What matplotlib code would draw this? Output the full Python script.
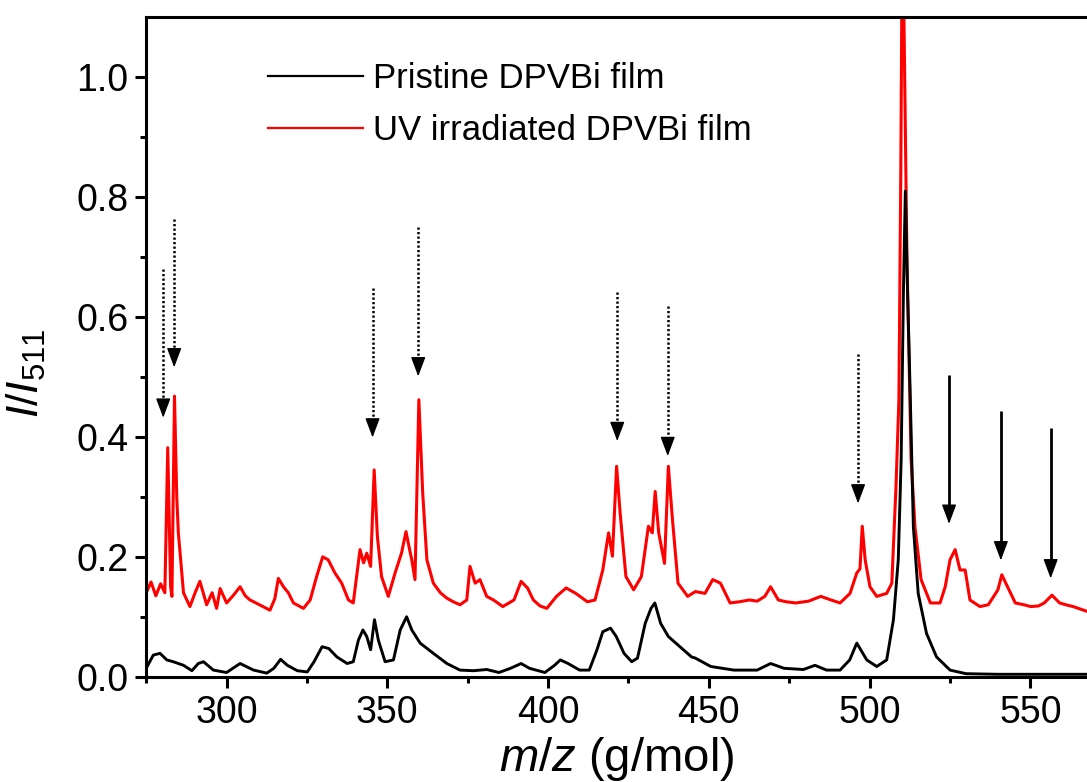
import matplotlib
matplotlib.use("Agg")
import matplotlib.pyplot as plt

plt.rcParams['font.family'] = ['Liberation Sans', 'DejaVu Sans']
plt.rcParams['mathtext.fontset'] = 'custom'
plt.rcParams['mathtext.rm'] = 'Liberation Sans'
plt.rcParams['mathtext.it'] = 'Liberation Sans:italic'

# ---------------- data ----------------
red_mz = [275.0, 276.5, 278.0, 279.5, 280.8, 281.7, 282.6, 283.0, 283.8, 284.5, 285.0, 286.6,
          288.6, 290.2, 291.7, 293.8, 295.5, 296.9, 298.0, 300.0, 302.0, 304.2, 305.8, 307.3,
          309.5, 311.4, 313.5, 315.0, 316.1, 317.7, 319.2, 320.8, 323.9, 326.0, 328.0, 329.9,
          331.6, 333.7, 335.8, 337.9, 339.4, 340.5, 341.5, 342.6, 343.6, 344.8, 345.9, 346.9,
          348.2, 350.3, 352.4, 354.4, 355.8, 357.0, 357.6, 358.6, 359.8, 361.0, 362.3, 364.3,
          366.5, 368.5, 370.5, 372.6, 374.7, 375.7, 377.3, 378.8, 380.9, 383.0, 385.9, 389.4,
          391.6, 393.6, 395.4, 397.5, 399.6, 402.6, 405.6, 408.6, 412.2, 414.6, 417.0, 418.8,
          420.0, 421.3, 422.4, 424.2, 426.6, 429.0, 431.2, 432.4, 433.3, 434.4, 436.2, 437.4,
          438.6, 440.4, 443.4, 445.8, 448.8, 451.2, 453.6, 456.6, 459.5, 462.6, 465.0, 467.4,
          469.2, 471.6, 474.0, 477.0, 481.0, 484.8, 488.0, 490.8, 493.9, 496.0, 497.0, 497.7,
          498.6, 500.1, 502.2, 505.3, 506.9, 508.2, 509.1, 509.7, 510.2, 510.9, 511.6, 512.9,
          514.1, 516.0, 518.9, 521.9, 523.5, 525.0, 526.6, 528.1, 529.7, 531.2, 534.3,
          536.9, 539.9, 541.1, 542.9, 545.3, 548.0, 550.1, 552.5, 554.3, 556.7, 559.1, 561.0,
          563.3, 567.6]
red_int = [0.140, 0.158, 0.135, 0.155, 0.140, 0.382, 0.150, 0.134, 0.468, 0.300, 0.240, 0.140,
           0.117, 0.140, 0.159, 0.120, 0.140, 0.114, 0.147, 0.123, 0.135, 0.150, 0.135, 0.128,
           0.122, 0.117, 0.111, 0.130, 0.164, 0.150, 0.140, 0.123, 0.114, 0.128, 0.167, 0.200,
           0.195, 0.173, 0.156, 0.128, 0.123, 0.170, 0.212, 0.190, 0.206, 0.184, 0.345, 0.234,
           0.167, 0.134, 0.173, 0.206, 0.242, 0.210, 0.195, 0.162, 0.462, 0.306, 0.195, 0.156,
           0.140, 0.131, 0.125, 0.120, 0.128, 0.184, 0.156, 0.162, 0.134, 0.128, 0.117, 0.128,
           0.159, 0.148, 0.128, 0.118, 0.114, 0.134, 0.148, 0.139, 0.125, 0.128, 0.178, 0.240,
           0.201, 0.351, 0.273, 0.167, 0.145, 0.167, 0.251, 0.240, 0.309, 0.240, 0.189, 0.351,
           0.267, 0.156, 0.134, 0.142, 0.139, 0.162, 0.156, 0.123, 0.125, 0.128, 0.126, 0.134,
           0.150, 0.128, 0.125, 0.123, 0.126, 0.134, 0.128, 0.123, 0.139, 0.173, 0.180, 0.251,
           0.195, 0.150, 0.134, 0.139, 0.156, 0.318, 0.462, 0.850, 1.300, 1.000, 0.700, 0.362,
           0.250, 0.162, 0.123, 0.123, 0.150, 0.195, 0.212, 0.178, 0.178, 0.128, 0.117,
           0.120, 0.145, 0.170, 0.150, 0.123, 0.120, 0.117, 0.118, 0.123, 0.136, 0.123, 0.120,
           0.117, 0.109]

black_mz = [275.0, 277.2, 279.3, 281.4, 283.4, 286.6, 289.2, 291.2, 292.8, 295.9, 300.0, 304.2,
            308.4, 312.5, 314.7, 316.8, 318.9, 322.0, 325.1, 327.2, 329.7, 331.8, 334.3, 337.5,
            339.4, 341.0, 342.4, 343.6, 344.8, 346.0, 347.2, 349.3, 351.9, 354.0, 356.0, 357.6,
            360.2, 364.3, 368.5, 372.6, 376.8, 380.9, 384.7, 388.3, 391.6, 394.2, 399.0, 402.0,
            403.8, 406.2, 409.8, 412.8, 415.2, 417.0, 419.4, 421.2, 423.6, 426.0, 427.8, 430.2,
            432.0, 433.2, 435.0, 437.4, 441.0, 444.6, 445.8, 450.6, 457.8, 465.0, 469.2, 473.4,
            479.4, 483.0, 486.6, 490.8, 493.8, 496.0, 499.1, 502.2, 505.3, 507.4, 508.9, 509.8,
            510.5, 511.1, 511.8, 512.6, 513.6, 515.1, 517.7, 520.8, 525.0, 530.0, 540.0, 567.6]
black_int = [0.014, 0.036, 0.039, 0.028, 0.025, 0.019, 0.010, 0.022, 0.025, 0.011, 0.007, 0.022,
             0.011, 0.006, 0.014, 0.029, 0.019, 0.010, 0.008, 0.025, 0.050, 0.047, 0.033, 0.022,
             0.025, 0.061, 0.078, 0.067, 0.045, 0.095, 0.061, 0.025, 0.028, 0.078, 0.100, 0.078,
             0.056, 0.039, 0.022, 0.011, 0.010, 0.012, 0.007, 0.014, 0.022, 0.014, 0.007, 0.019,
             0.028, 0.022, 0.011, 0.011, 0.045, 0.075, 0.081, 0.067, 0.039, 0.025, 0.031, 0.089,
             0.114, 0.123, 0.089, 0.067, 0.050, 0.033, 0.031, 0.017, 0.011, 0.011, 0.022, 0.014,
             0.012, 0.019, 0.011, 0.011, 0.028, 0.056, 0.028, 0.017, 0.028, 0.095, 0.195, 0.362,
             0.640, 0.810, 0.640, 0.474, 0.250, 0.139, 0.072, 0.033, 0.011, 0.005, 0.004, 0.004]

series_labels = ['Pristine DPVBi film', 'UV irradiated DPVBi film']

# arrow annotations: position (m/z), tail top, head tip, dotted?
arrow_mz = [280.3, 283.7, 345.4, 359.6, 421.5, 437.2, 496.4, 524.7, 540.8, 556.3]
arrow_top = [0.680, 0.763, 0.648, 0.750, 0.641, 0.618, 0.538, 0.504, 0.443, 0.415]
arrow_tip = [0.432, 0.516, 0.399, 0.501, 0.393, 0.368, 0.289, 0.255, 0.194, 0.164]
arrow_dotted = [True, True, True, True, True, True, True, False, False, False]

x_ticks = [300, 350, 400, 450, 500, 550]
y_ticks = [0.0, 0.2, 0.4, 0.6, 0.8, 1.0]

# ---------------- figure ----------------
fig = plt.figure(figsize=(10.87, 7.82), dpi=100)
ax = fig.add_axes([146.2 / 1087, (782 - 676.7) / 782, (1087 - 146.2) / 1087, (676.7 - 17.3) / 782])

ax.plot(black_mz, black_int, color='black', lw=2.1, label=series_labels[0], zorder=3)
ax.plot(red_mz, red_int, color='#ff0000', lw=2.2, label=series_labels[1], zorder=2)

ax.set_xlim(275, 567.6)
ax.set_ylim(0, 1.1)
ax.set_xticks(x_ticks)
ax.set_xticks([275, 325, 375, 425, 475, 525], minor=True)
ax.set_yticks(y_ticks)
ax.set_yticks([0.1, 0.3, 0.5, 0.7, 0.9], minor=True)
ax.set_yticklabels(['%.1f' % v for v in y_ticks])

for s in ['left', 'bottom', 'top']:
    ax.spines[s].set_linewidth(2.2)
ax.spines['right'].set_visible(False)
ax.tick_params(which='major', direction='out', length=8, width=2.2, labelsize=27, pad=5,
               top=False, right=False)
ax.tick_params(which='minor', direction='out', length=4.5, width=2.2, top=False, right=False)

ax.set_xlabel(r'$m/z$ (g/mol)', fontsize=34, labelpad=3)
ax.set_ylabel(r'$\mathit{I/I}_{\mathit{511}}$', fontsize=32)
ax.yaxis.set_label_coords(-0.104, 0.46)

# arrows
head_len = 0.028
for xm, yt, yh, dotted in zip(arrow_mz, arrow_top, arrow_tip, arrow_dotted):
    ax.plot([xm, xm], [yt, yh + head_len * 0.6], color='black', lw=1.8 if dotted else 2.0,
            linestyle=(0, (0.9, 0.9)) if dotted else '-', zorder=4, solid_capstyle='butt')
    ax.annotate('', xy=(xm, yh), xytext=(xm, yh + head_len),
                arrowprops=dict(arrowstyle='-|>,head_length=1.2,head_width=0.45',
                                mutation_scale=10, color='black', lw=1.0,
                                shrinkA=0, shrinkB=0), zorder=5)

leg = ax.legend(loc='upper left', bbox_to_anchor=(0.129, 0.9325), frameon=False, fontsize=25,
                handlelength=2.74, handletextpad=0.29, labelspacing=0.55, borderpad=0,
                borderaxespad=0)
for h in leg.get_lines():
    h.set_linewidth(1.6)

fig.savefig('out.png', dpi=100)
